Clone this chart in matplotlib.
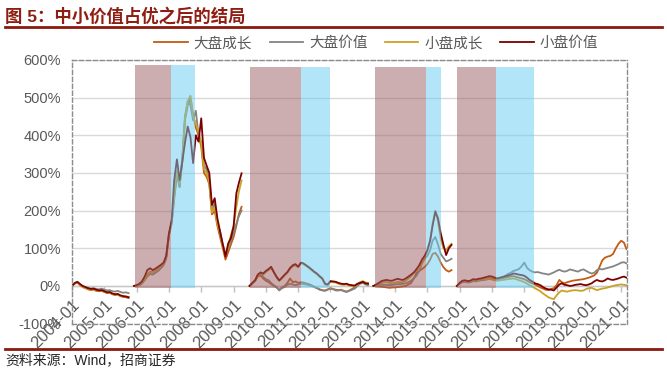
import pandas as pd
import matplotlib.pyplot as plt
import matplotlib.dates as mdates
from matplotlib.ticker import MultipleLocator, FuncFormatter
from matplotlib.lines import Line2D

plt.rcParams['font.family'] = ['Liberation Sans', 'Noto Sans CJK SC']

#==============================================
# data: cumulative return (%) per segment, monthly

names = ['大盘成长', '大盘价值', '小盘成长', '小盘价值']
colors = ['#C55A11', '#848484', '#C9A227', '#7B0000']

seg_start = ['2004-01', '2005-12', '2009-07', '2013-05', '2015-12']

# 2004-01 .. 2005-10
big_growth_a = [0, 6, 9, 2, -3, -6, -9, -11, -10, -13, -14, -13, -16, -19, -18, -22, -24, -23, -27, -29, -30, -32]
big_value_a = [0, 7, 10, 4, -1, -4, -5, -7, -6, -8, -9, -7, -10, -12, -11, -14, -15, -13, -16, -18, -17, -19]
small_growth_a = [0, 7, 10, 3, -2, -5, -8, -10, -9, -12, -13, -12, -15, -18, -17, -21, -23, -22, -26, -28, -28, -29]
small_value_a = [0, 8, 11, 5, 0, -3, -6, -8, -7, -10, -12, -11, -14, -17, -16, -20, -22, -21, -25, -27, -28, -30]

# 2005-12 .. 2009-04
big_growth_b = [0, 1, 3, 8, 18, 30, 38, 36, 40, 45, 50, 58, 75, 135, 170, 230, 295, 265, 330, 440, 480, 500,
                455, 420, 400, 370, 300, 290, 270, 190, 200, 160, 130, 100, 70, 90, 110, 130, 160, 190, 210]
big_value_b = [0, 1, 2, 6, 15, 25, 32, 30, 35, 40, 47, 55, 72, 135, 165, 240, 300, 262, 340, 450, 490, 480,
               440, 465, 400, 380, 320, 310, 280, 200, 220, 170, 145, 110, 85, 100, 120, 140, 165, 185, 200]
small_growth_b = [0, 1, 3, 8, 17, 30, 37, 35, 40, 45, 52, 60, 78, 138, 170, 240, 305, 270, 335, 445, 490, 505,
                  450, 430, 410, 380, 310, 300, 275, 195, 210, 165, 140, 105, 80, 105, 135, 160, 210, 250, 280]
small_value_b = [0, 2, 6, 12, 25, 42, 47, 42, 46, 51, 56, 62, 80, 140, 175, 280, 336, 281, 330, 380, 423, 395,
                 326, 400, 383, 445, 340, 320, 300, 215, 233, 180, 144, 110, 78, 113, 127, 158, 246, 273, 299]

# 2009-07 .. 2013-03
big_growth_c = [0, 7, 13, 25, 28, 20, 14, 10, 5, 0, -4, -10, -4, 0, 8, 20, 10, 12, 8, 10, 9, 7, 5,
                2, -2, -5, -9, -11, -12, -9, -6, -8, -10, -11, -10, -13, -15, -12, -8, -4, 3, 9, 10, 6, 4]
big_value_c = [0, 8, 15, 28, 33, 24, 18, 15, 8, 2, -3, -12, -6, -3, 3, 6, 4, 2, 4, 6, 5, 4, 2,
               0, -3, -6, -10, -12, -13, -10, -7, -9, -12, -12, -11, -14, -16, -13, -10, -7, 0, 6, 8, 4, 2]
small_growth_c = [0, 7, 13, 27, 33, 30, 37, 42, 48, 35, 22, 13, 20, 28, 35, 45, 52, 55, 50, 60, 58, 53, 48,
                  42, 36, 31, 24, 18, 4, 2, 11, 10, 9, 6, 4, 3, 4, 1, 0, -1, 5, 10, 13, 9, 8]
small_value_c = [0, 8, 15, 30, 36, 33, 40, 45, 51, 37, 25, 15, 22, 30, 37, 48, 55, 58, 51, 62, 60, 55, 50,
                 44, 38, 33, 26, 20, 6, 4, 13, 12, 11, 8, 6, 5, 6, 3, 2, 1, 6, 8, 11, 7, 6]

# 2013-05 .. 2015-10
big_growth_d = [0, 0, -1, -2, -3, -4, -5, -4, -4, -3, -2, -1, 0, 4, 8, 20, 35, 40, 45, 50, 58, 70, 85, 88,
                78, 62, 50, 42, 38, 42]
big_value_d = [0, 1, 2, 3, 3, 3, 2, 3, 4, 5, 5, 6, 7, 10, 14, 20, 28, 40, 60, 72, 80, 95, 120, 130,
               110, 85, 75, 65, 68, 72]
small_growth_d = [0, 2, 5, 8, 10, 10, 8, 7, 9, 11, 10, 10, 14, 20, 26, 35, 40, 45, 62, 75, 95, 120, 165, 200,
                  170, 125, 100, 95, 105, 112]
small_value_d = [0, 4, 8, 13, 15, 16, 14, 14, 17, 19, 17, 16, 20, 25, 30, 36, 45, 55, 70, 80, 95, 120, 160, 197,
                 180, 140, 110, 82, 100, 109]

# 2015-12 .. 2021-03
big_growth_e = [0, 7, 12, 13, 11, 12, 15, 14, 16, 17, 18, 19, 21, 20, 18, 17, 19, 21, 22, 24, 25, 26,
                24, 22, 20, 18, 14, 10, 7, 4, 0, -4, -7, -10, -11, -8, -6, 2, 16, 10, 7, 10, 12,
                14, 15, 16, 17, 18, 20, 22, 25, 28, 35, 51, 68, 75, 78, 80, 85, 100, 112, 120, 115, 98]
big_value_e = [0, 6, 10, 11, 9, 10, 13, 12, 14, 15, 16, 17, 19, 18, 16, 15, 18, 22, 27, 32, 35, 40,
               42, 45, 52, 62, 48, 42, 38, 36, 37, 35, 33, 32, 30, 33, 36, 40, 43, 40, 38, 40, 44,
               42, 40, 38, 42, 44, 40, 36, 33, 35, 42, 45, 44, 46, 48, 50, 52, 55, 58, 62, 63, 60]
small_growth_e = [0, 7, 12, 13, 11, 12, 15, 14, 16, 17, 18, 18, 19, 17, 15, 14, 15, 16, 17, 18, 19, 20,
                  18, 15, 13, 10, 6, 2, -2, -6, -10, -14, -20, -25, -30, -33, -35, -25, -17, -12, -14, -15, -13,
                  -12, -11, -12, -13, -12, -8, -6, -5, -8, -11, -9, -7, -6, -4, -2, 0, 2, 3, 4, 3, 2]
small_value_e = [0, 8, 14, 15, 13, 14, 18, 17, 19, 20, 22, 24, 26, 25, 22, 20, 22, 24, 26, 28, 30, 33,
                 32, 30, 29, 27, 22, 16, 12, 7, 5, 2, -3, -7, -9, -10, -12, -4, 4, 7, 3, 2, 0,
                 1, 3, 4, 5, 3, 2, 4, 7, 12, 16, 13, 12, 15, 20, 17, 16, 18, 20, 23, 25, 22]

big_growth = [big_growth_a, big_growth_b, big_growth_c, big_growth_d, big_growth_e]
big_value = [big_value_a, big_value_b, big_value_c, big_value_d, big_value_e]
small_growth = [small_growth_a, small_growth_b, small_growth_c, small_growth_d, small_growth_e]
small_value = [small_value_a, small_value_b, small_value_c, small_value_d, small_value_e]

# shaded periods: brown = 中小价值占优, blue = afterwards
brown_periods = [('2005-12-10', '2007-01-25'), ('2009-07-03', '2011-02-03'),
                 ('2013-05-18', '2014-12-12'), ('2015-12-01', '2017-02-12')]
blue_periods = [('2007-01-25', '2007-10-20'), ('2011-02-03', '2011-12-25'),
                ('2014-12-12', '2015-06-03'), ('2017-02-12', '2018-04-18')]
shade_top = [587, 580, 580, 580]
shade_bottom = -5

#==============================================

fig = plt.figure(figsize=(6.67, 3.72), dpi=100)
ax = fig.add_axes([0.108, 0.13, 0.832, 0.709])

handles = []
for series, name, c in zip([big_growth, big_value, small_growth, small_value], names, colors):
    for start, vals in zip(seg_start, series):
        dates = pd.date_range(start + '-01', periods=len(vals), freq='MS')
        ln, = ax.plot(dates, vals, color=c, lw=1.3, zorder=2)
    handles.append(ln)

for (b0, b1), (u0, u1), top in zip(brown_periods, blue_periods, shade_top):
    ax.fill_between(pd.to_datetime([b0, b1]), shade_bottom, top, color='#9B5F62', alpha=0.5, lw=0, zorder=3)
    ax.fill_between(pd.to_datetime([u0, u1]), shade_bottom, top, color='#66CCF0', alpha=0.5, lw=0, zorder=3)

ax.set_ylim(-100, 600)
ax.yaxis.set_major_locator(MultipleLocator(100))
ax.yaxis.set_major_formatter(FuncFormatter(lambda v, p: f'{v:.0f}%'))
ax.set_xlim(pd.Timestamp('2004-01-01'), pd.Timestamp('2021-03-07'))
ax.xaxis.set_major_locator(mdates.YearLocator())

ax.tick_params(axis='y', length=0, pad=8, labelsize=10.5, labelcolor='#595959')
ax.tick_params(axis='x', length=0, labelbottom=False)

ax.grid(axis='y', color='#D9D9D9', lw=1)
ax.set_axisbelow(True)
ax.axhline(0, color='#C8C8C8', lw=1, zorder=1)
for s in ax.spines.values():
    s.set_linestyle((0, (3, 2)))
    s.set_color('#8C8C8C')
    s.set_linewidth(1)

# category axis crosses at 0%: ticks and labels sit on the zero line
sec = ax.secondary_xaxis(1 / 7)
sec.xaxis.set_major_locator(mdates.YearLocator())
sec.xaxis.set_major_formatter(mdates.DateFormatter('%Y-%m'))
sec.tick_params(length=4, color='#BFBFBF', width=1, pad=4, labelsize=12, labelcolor='#595959')
for s in sec.spines.values():
    s.set_visible(False)

leg = fig.legend(handles, names, loc='center', bbox_to_anchor=(0.564, 0.884), ncol=4, frameon=False,
                 handlelength=2.3, handletextpad=0.4, columnspacing=1.2, fontsize=10.5)
for t in leg.get_texts():
    t.set_color('#595959')

fig.text(0.008, 0.957, '图 5：中小价值占优之后的结局', fontsize=12.5, fontweight='bold',
         color='#8E1E12', va='center')
fig.add_artist(Line2D([0.0075, 0.993], [1 - 27 / 372] * 2, color='#8B1A0E', lw=2))
fig.add_artist(Line2D([0.0075, 0.993], [1 - 349 / 372] * 2, color='#8B1A0E', lw=2))
fig.text(0.008, 1 - 360 / 372, '资料来源：Wind，招商证券', fontsize=10, va='center', color='#262626')

fig.canvas.draw()
plt.setp(sec.get_xticklabels(), rotation=45, ha='right', va='top', rotation_mode='anchor')

plt.savefig('out.png', dpi=100)
